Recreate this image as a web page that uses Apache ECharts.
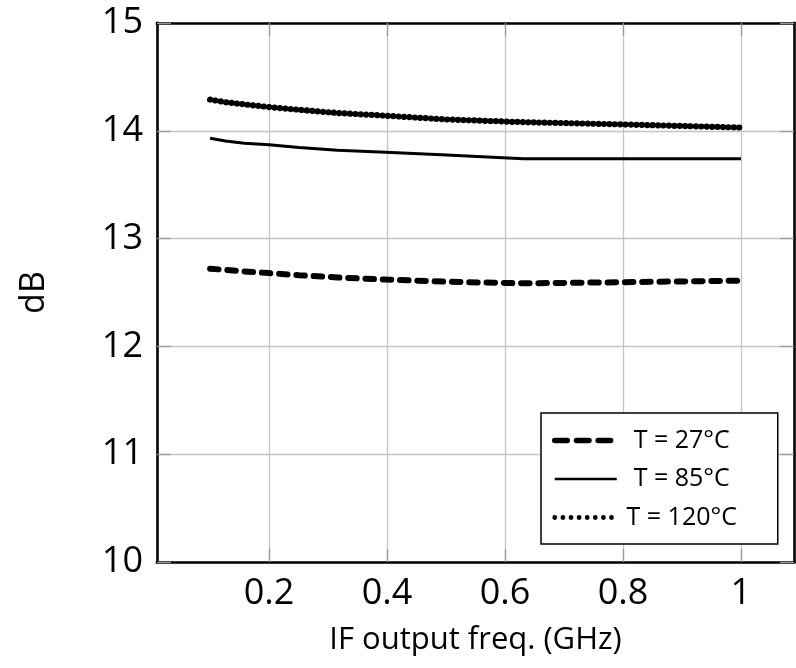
<!DOCTYPE html>
<html><head><meta charset="utf-8">
<script src="https://cdn.jsdelivr.net/npm/echarts@6/dist/echarts.min.js"></script>
<style>html,body{margin:0;padding:0;background:#fff}#c{width:796px;height:668px}</style>
</head><body><div id="c"></div>
<script>
const freqGHz = [0.1, 0.126, 0.158, 0.2, 0.251, 0.316, 0.398, 0.501, 0.631, 0.794, 1.0];
const gain27 = [12.72, 12.71, 12.695, 12.68, 12.66, 12.64, 12.62, 12.60, 12.585, 12.595, 12.61];
const gain85 = [13.93, 13.905, 13.885, 13.87, 13.845, 13.82, 13.80, 13.775, 13.74, 13.74, 13.74];
const gain120 = [14.29, 14.265, 14.245, 14.22, 14.195, 14.165, 14.14, 14.105, 14.08, 14.06, 14.03];
const seriesNames = ['T = 27°C', 'T = 85°C', 'T = 120°C'];
const xTicks = [0.2, 0.4, 0.6, 0.8, 1];
const yMin = 10, yMax = 15, yStep = 1;
const xMin = 0.01, xMax = 1.09;

const FONT = 'Open Sans';
const pairs = arr => freqGHz.map((x, i) => [x, arr[i]]);

const dashedStyle = {color: '#000', width: 6, type: [8.5, 8.8], cap: 'round'};
const solidStyle = {color: '#000', width: 3, type: 'solid', cap: 'butt'};
const dottedStyle = {color: '#000', width: 6.2, type: [0.01, 5.4], cap: 'round'};

const tickStyle = {color: '#9a9a9a', width: 1.3};
const gridStyle = {color: '#c4c4c4', width: 1.3};
const frame = {show: true, lineStyle: {color: '#000', width: 2.6, cap: 'square'}};
const hiddenSymbol = {color: 'rgba(0,0,0,0)', borderColor: 'rgba(0,0,0,0)', borderWidth: 0, opacity: 0};

const chart = echarts.init(document.getElementById('c'), null, {renderer: 'canvas'});
chart.setOption({
  backgroundColor: '#fff',
  animation: false,
  grid: {left: 157, right: 2, top: 23, bottom: 106},
  xAxis: [{
    type: 'value', min: xMin, max: xMax, position: 'bottom',
    name: 'IF output freq. (GHz)', nameLocation: 'middle', nameGap: 63,
    nameTextStyle: {fontFamily: FONT, fontSize: 31, color: '#000'},
    axisLine: frame,
    axisTick: {show: true, inside: true, length: 13, customValues: xTicks, lineStyle: tickStyle},
    axisLabel: {customValues: xTicks, fontFamily: FONT, fontSize: 36, color: '#000', margin: 14,
      formatter: v => String(v)},
    splitLine: {show: true, lineStyle: gridStyle}
  }, {
    type: 'value', min: xMin, max: xMax, position: 'top',
    axisLine: frame,
    axisTick: {show: true, inside: true, length: 13, customValues: xTicks, lineStyle: tickStyle},
    axisLabel: {show: false, customValues: xTicks},
    splitLine: {show: false}
  }],
  yAxis: [{
    type: 'value', min: yMin, max: yMax, interval: yStep, position: 'left',
    name: 'dB', nameLocation: 'middle', nameGap: 106, nameRotate: 90,
    nameTextStyle: {fontFamily: FONT, fontSize: 34, color: '#000'},
    axisLine: frame,
    axisTick: {show: true, inside: true, length: 14, lineStyle: tickStyle},
    axisLabel: {fontFamily: FONT, fontSize: 36, color: '#000', margin: 14},
    splitLine: {show: true, lineStyle: gridStyle}
  }, {
    type: 'value', min: yMin, max: yMax, interval: yStep, position: 'right',
    axisLine: frame,
    axisTick: {show: true, inside: true, length: 14, lineStyle: tickStyle},
    axisLabel: {show: false},
    splitLine: {show: false}
  }],
  legend: {
    left: 541, top: 413, orient: 'vertical',
    backgroundColor: '#fff', borderColor: '#000', borderWidth: 1.5, borderRadius: 0,
    padding: [15, 36, 14, 11],
    itemWidth: 62, itemHeight: 14, itemGap: 13.5, itemTextGap: 6,
    textStyle: {fontFamily: FONT, fontSize: 25, color: '#000', lineHeight: 25,
      rich: {c: {fontFamily: FONT, fontSize: 25, color: '#000', width: 120, align: 'center', lineHeight: 25}}},
    formatter: name => '{c|' + name + '}',
    data: [
      {name: seriesNames[0], itemStyle: hiddenSymbol, lineStyle: {color: '#000', width: 5.5, type: [12.5, 9.2], cap: 'round'}},
      {name: seriesNames[1], itemStyle: hiddenSymbol, lineStyle: {color: '#000', width: 2.7, type: 'solid', cap: 'butt'}},
      {name: seriesNames[2], itemStyle: hiddenSymbol, lineStyle: {color: '#000', width: 4.8, type: [0.01, 8.1], cap: 'round'}}
    ]
  },
  series: [
    {name: seriesNames[0], type: 'line', data: pairs(gain27), symbol: 'none', lineStyle: dashedStyle, itemStyle: {color: '#000'}, z: 3},
    {name: seriesNames[1], type: 'line', data: pairs(gain85), symbol: 'none', lineStyle: solidStyle, itemStyle: {color: '#000'}, z: 3},
    {name: seriesNames[2], type: 'line', data: pairs(gain120), symbol: 'none', lineStyle: dottedStyle, itemStyle: {color: '#000'}, z: 3}
  ]
});
</script></body></html>
